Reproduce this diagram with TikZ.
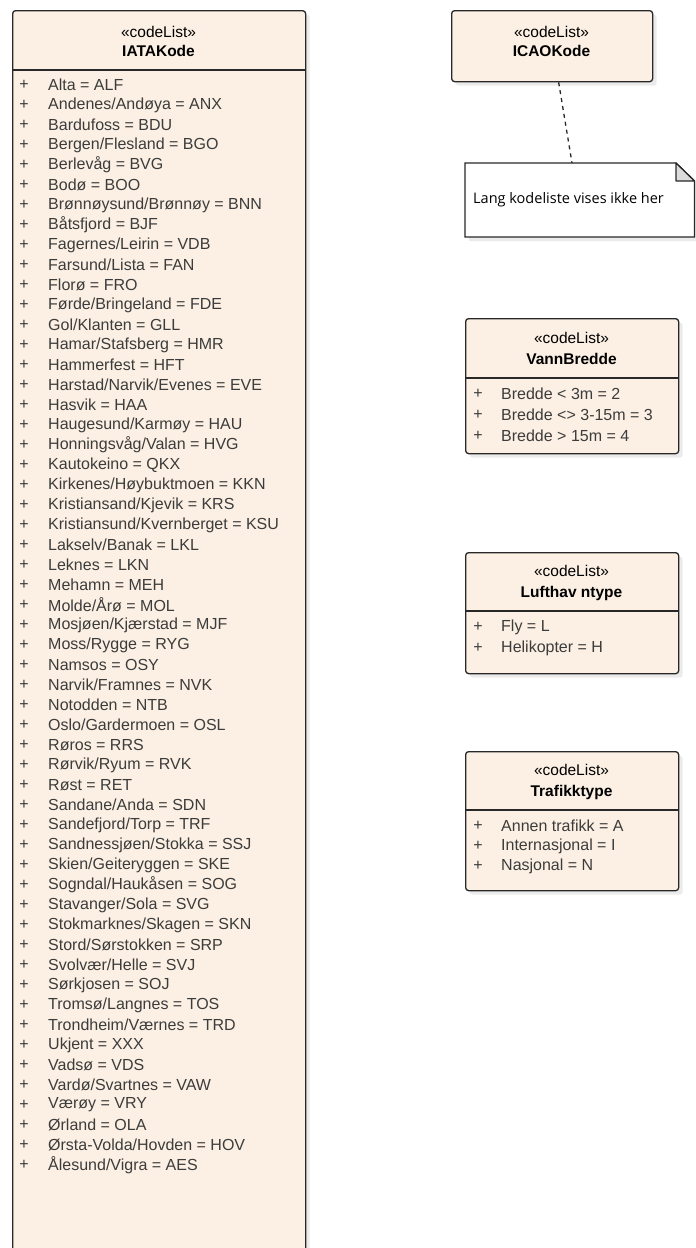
\documentclass[tikz,border=0pt]{standalone}
\usepackage{fontspec}
\setmainfont{Liberation Sans}
\newfontfamily\notefont{Open Sans}
\usetikzlibrary{shadows,calc}
\definecolor{clsfill}{RGB}{251,240,227}
\definecolor{clsline}{RGB}{40,40,40}
\definecolor{attrtext}{RGB}{60,60,60}
\definecolor{foldgray}{RGB}{220,220,220}
\tikzset{
  codelist/.style={draw=clsline,fill=clsfill,line width=1.3pt,rounded corners=3pt,
    anchor=north west,inner sep=0pt,
    drop shadow={shadow xshift=4pt,shadow yshift=-4pt,fill=black!15}},
  stereo/.style={font=\fontsize{15.5}{18}\selectfont,text=black},
  clsname/.style={font=\fontsize{15.5}{18}\selectfont\bfseries,text=black},
  plus/.style={font=\fontsize{16}{18}\selectfont,text=attrtext,inner sep=0pt},
  attr/.style={font=\fontsize{16}{18}\selectfont,text=attrtext,anchor=west,inner sep=0pt},
  sepline/.style={draw=clsline,line width=1.3pt},
  notetext/.style={font=\notefont\fontsize{14.5}{17}\selectfont,anchor=west,inner sep=0pt},
}
\begin{document}
\begin{tikzpicture}[x=1pt,y=-1pt]
  \useasboundingbox[fill=white] (0,0) rectangle (696,1248);
  % IATAKode
  \node[codelist,minimum width=293pt,minimum height=1250pt] (iata) at (12,10) {};
  \node[stereo] (iatast) at (158.5,32) {«codeList»};
  \node[clsname] (iatanm) at (158.5,51) {IATAKode};
  \draw[sepline] (12,70) -- (305,70);
  \foreach \txt [count=\i] in {Alta = ALF, Andenes/Andøya = ANX, Bardufoss = BDU,
      Bergen/Flesland = BGO, Berlevåg = BVG, Bodø = BOO, Brønnøysund/Brønnøy = BNN,
      Båtsfjord = BJF, Fagernes/Leirin = VDB, Farsund/Lista = FAN, Florø = FRO,
      Førde/Bringeland = FDE, Gol/Klanten = GLL, Hamar/Stafsberg = HMR,
      Hammerfest = HFT, Harstad/Narvik/Evenes = EVE, Hasvik = HAA,
      Haugesund/Karmøy = HAU, Honningsvåg/Valan = HVG, Kautokeino = QKX,
      Kirkenes/Høybuktmoen = KKN, Kristiansand/Kjevik = KRS,
      Kristiansund/Kvernberget = KSU, Lakselv/Banak = LKL, Leknes = LKN,
      Mehamn = MEH, Molde/Årø = MOL, Mosjøen/Kjærstad = MJF, Moss/Rygge = RYG,
      Namsos = OSY, Narvik/Framnes = NVK, Notodden = NTB, Oslo/Gardermoen = OSL,
      Røros = RRS, Rørvik/Ryum = RVK, Røst = RET, Sandane/Anda = SDN,
      Sandefjord/Torp = TRF, Sandnessjøen/Stokka = SSJ, Skien/Geiteryggen = SKE,
      Sogndal/Haukåsen = SOG, Stavanger/Sola = SVG, Stokmarknes/Skagen = SKN,
      Stord/Sørstokken = SRP, Svolvær/Helle = SVJ, Sørkjosen = SOJ,
      Tromsø/Langnes = TOS, Trondheim/Værnes = TRD, Ukjent = XXX, Vadsø = VDS,
      Vardø/Svartnes = VAW, Værøy = VRY, Ørland = OLA, Ørsta-Volda/Hovden = HOV,
      Ålesund/Vigra = AES}{
    \node[plus] (iatap\i) at (24,65+20*\i) {+};
    \node[attr] (iataa\i) at (48,65+20*\i) {\txt};
  }
  % ICAOKode
  \node[codelist,minimum width=201pt,minimum height=71pt] (icao) at (451,10) {};
  \node[stereo] (icaost) at (551.5,32) {«codeList»};
  \node[clsname] (icaonm) at (551.5,51) {ICAOKode};
  % note
  \filldraw[draw=clsline,fill=white,line width=1.3pt,
    drop shadow={shadow xshift=4pt,shadow yshift=-4pt,fill=black!15}]
    (465,163) -- (676,163) -- (694.5,181) -- (694.5,237) -- (465,237) -- cycle;
  \filldraw[draw=clsline,fill=foldgray,line width=1.3pt,line join=round]
    (676,163) -- (676,181) -- (694.5,181) -- cycle;
  \coordinate (notetop) at (572,163);
  \node[notetext] (note) at (473,200) {Lang kodeliste vises ikke her};
  \draw[clsline,line width=1.3pt,dash pattern=on 4pt off 4pt]
    ($(icao.south)+(6.5,0)$) -- (notetop);
  % VannBredde
  \node[codelist,minimum width=213pt,minimum height=135pt] (vann) at (465,318) {};
  \node[stereo] (vannst) at (571.5,338) {«codeList»};
  \node[clsname] (vannnm) at (571.5,359) {VannBredde};
  \draw[sepline] (465,378) -- (678,378);
  \foreach \txt [count=\i] in {Bredde < 3m = 2, Bredde <> 3-15m = 3, Bredde > 15m = 4}{
    \node[plus] (vannp\i) at (478,373+21*\i) {+};
    \node[attr] (vanna\i) at (501,373+21*\i) {\txt};
  }
  % Lufthavntype
  \node[codelist,minimum width=213pt,minimum height=121pt] (luft) at (465,552) {};
  \node[stereo] (luftst) at (571.5,571) {«codeList»};
  \node[clsname] (luftnm) at (571.5,593) {Lufthav ntype};
  \draw[sepline] (465,611) -- (678,611);
  \foreach \txt [count=\i] in {Fly = L, Helikopter = H}{
    \node[plus] (luftp\i) at (478,606+21*\i) {+};
    \node[attr] (lufta\i) at (501,606+21*\i) {\txt};
  }
  % Trafikktype
  \node[codelist,minimum width=213pt,minimum height=139pt] (traf) at (465,751) {};
  \node[stereo] (trafst) at (571.5,770) {«codeList»};
  \node[clsname] (trafnm) at (571.5,792) {Trafikktype};
  \draw[sepline] (465,810) -- (678,810);
  \foreach \txt [count=\i] in {Annen trafikk = A, Internasjonal = I, Nasjonal = N}{
    \node[plus] (trafp\i) at (478,806+20*\i) {+};
    \node[attr] (trafa\i) at (501,806+20*\i) {\txt};
  }
\end{tikzpicture}
\end{document}
